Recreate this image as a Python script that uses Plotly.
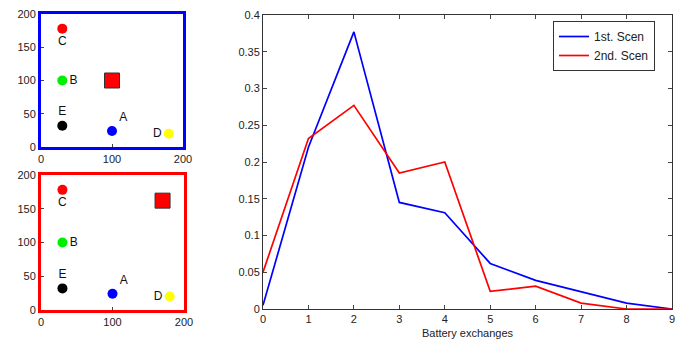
import plotly.graph_objects as go

# Main chart data
exchanges = [0, 1, 2, 3, 4, 5, 6, 7, 8, 9]
scen1 = [0.005, 0.22, 0.377, 0.145, 0.131, 0.062, 0.039, 0.024, 0.008, 0.0]
scen2 = [0.05, 0.232, 0.277, 0.185, 0.200, 0.024, 0.031, 0.008, 0.0, 0.0]
series_names = ["1st. Scen", "2nd. Scen"]

# Small map data
point_labels = ["A", "B", "C", "D", "E"]
point_x = [100, 30, 30, 180, 30]
point_y = [24, 100, 178, 20, 32]
point_colors = ["#0000ff", "#00ee00", "#ff0000", "#ffff00", "#000000"]
label_pos = ["top right", "middle right", "bottom center", "middle left", "top center"]
square_top = (100, 100)
square_bottom = (170, 162)

FONT = "Liberation Sans, Arial, sans-serif"
fig = go.Figure()

for i, (sq, ax) in enumerate([(square_top, ("x", "y")), (square_bottom, ("x2", "y2"))]):
    fig.add_trace(go.Scatter(
        x=point_x, y=point_y, mode="markers+text", text=point_labels,
        textposition=label_pos,
        textfont=dict(family=FONT, size=12, color="#111"),
        marker=dict(size=10, color=point_colors, line=dict(width=0)),
        xaxis=ax[0], yaxis=ax[1], showlegend=False, cliponaxis=False))
    fig.add_trace(go.Scatter(
        x=[sq[0]], y=[sq[1]], mode="markers",
        marker=dict(size=15, symbol="square", color="#ff0000", line=dict(width=1, color="#333")),
        xaxis=ax[0], yaxis=ax[1], showlegend=False))

fig.add_trace(go.Scatter(x=exchanges, y=scen1, mode="lines", name=series_names[0],
                         line=dict(color="#0000ff", width=1.7), xaxis="x3", yaxis="y3"))
fig.add_trace(go.Scatter(x=exchanges, y=scen2, mode="lines", name=series_names[1],
                         line=dict(color="#ff0000", width=1.7), xaxis="x3", yaxis="y3"))

W, H = 688, 343
def px(a, b):
    return [a / W, b / W]
def py(top, bottom):
    return [1 - bottom / H, 1 - top / H]

small_common = dict(range=[0, 200], tickvals=[0, 100, 200], ticks="inside", ticklen=3,
                    showgrid=False, zeroline=False, mirror=True, linewidth=3,
                    automargin=False,
                    tickfont=dict(family=FONT, size=11, color="#222"))
small_y = dict(range=[0, 200], tickvals=[0, 50, 100, 150, 200], ticks="inside", ticklen=3,
               showgrid=False, zeroline=False, mirror=True, linewidth=3,
               automargin=False,
               tickfont=dict(family=FONT, size=11, color="#222"))

fig.update_layout(
    width=W, height=H, margin=dict(l=0, r=0, t=0, b=0, pad=0, autoexpand=False),
    paper_bgcolor="white", plot_bgcolor="white",
    font=dict(family=FONT, size=11, color="#222"),
    xaxis=dict(domain=px(41, 183), anchor="y", linecolor="#0000ff", **small_common),
    yaxis=dict(domain=py(14, 147), anchor="x", linecolor="#0000ff", **small_y),
    xaxis2=dict(domain=px(41, 184), anchor="y2", linecolor="#ff0000", **small_common),
    yaxis2=dict(domain=py(175, 310), anchor="x2", linecolor="#ff0000", **small_y),
    xaxis3=dict(domain=px(263, 672), anchor="y3", range=[0, 9], tickvals=exchanges,
                ticks="inside", ticklen=4, mirror="ticks", linecolor="#333", linewidth=1,
                showgrid=False, zeroline=False, automargin=False,
                title=dict(text="Battery exchanges", standoff=5, font=dict(size=11)),
                tickfont=dict(family=FONT, size=11, color="#222")),
    yaxis3=dict(domain=py(15, 309), anchor="x3", range=[0, 0.4],
                tickvals=[0, 0.05, 0.1, 0.15, 0.2, 0.25, 0.3, 0.35, 0.4],
                ticktext=["0", "0.05", "0.1", "0.15", "0.2", "0.25", "0.3", "0.35", "0.4"],
                ticks="inside", ticklen=4, mirror="ticks", linecolor="#333", linewidth=1,
                showgrid=False, zeroline=False, automargin=False,
                tickfont=dict(family=FONT, size=11, color="#222")),
    legend=dict(x=553 / W, y=1 - 21 / H, xanchor="left", yanchor="top",
                bordercolor="#333", borderwidth=1, bgcolor="white",
                font=dict(family=FONT, size=12, color="#222"),
                tracegroupgap=0, itemwidth=30),
)

fig.write_html("out.html", config={"displayModeBar": False},
               post_script="document.body.style.margin='0';document.body.style.padding='0';")
